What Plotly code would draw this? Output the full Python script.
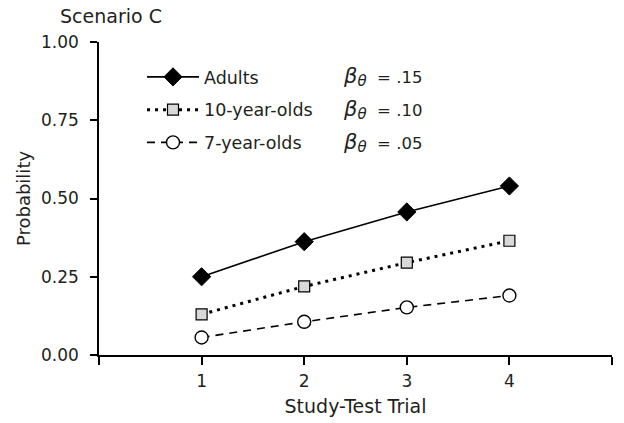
import plotly.graph_objects as go

trials = [1, 2, 3, 4]
adults = [0.25, 0.362, 0.457, 0.540]
ten_year = [0.130, 0.219, 0.295, 0.365]
seven_year = [0.056, 0.106, 0.152, 0.190]
series_names = ["Adults", "10-year-olds", "7-year-olds"]
beta_labels = [".15", ".10", ".05"]
y_ticks = [0, 0.25, 0.5, 0.75, 1.0]
y_tick_text = ["0.00", "0.25", "0.50", "0.75", "1.00"]
x_ticks = [0, 1, 2, 3, 4, 5]
x_tick_text = ["", "1", "2", "3", "4", ""]

FONT = "DejaVu Sans"
TXT = "#231f20"
fig = go.Figure()

fig.add_trace(go.Scatter(
    x=trials, y=adults, name=series_names[0], mode="lines+markers",
    line=dict(color="black", width=1.6),
    marker=dict(symbol="diamond", size=14, color="black", line=dict(color="black", width=1)),
    legendgroup="a"))
fig.add_trace(go.Scatter(
    x=trials, y=ten_year, name=series_names[1], mode="lines+markers",
    line=dict(color="black", width=3, dash="3px,5px"),
    marker=dict(symbol="square", size=11, color="#d9d9d9", line=dict(color="black", width=1.2)),
    legendgroup="b"))
fig.add_trace(go.Scatter(
    x=trials, y=seven_year, name=series_names[2], mode="lines+markers",
    line=dict(color="black", width=1.6, dash="8px,6px"),
    marker=dict(symbol="circle", size=13, color="white", line=dict(color="black", width=1.4)),
    legendgroup="c"))

L, R, T, B = 99, 12, 42, 68
W, H = 624, 423
pw, ph = W - L - R, H - T - B

beta_rows = [77, 110, 143]
for i, b in enumerate(beta_labels):
    fig.add_annotation(
        x=(341 - L) / pw, y=(H - B - beta_rows[i]) / ph, xref="paper", yref="paper",
        text=('<span style="font-size:21px"><i>β</i></span>'
              '<sub><span style="font-size:15px"><i>θ</i></span></sub>&nbsp;&nbsp;= ' + b),
        showarrow=False, xanchor="left", yanchor="middle",
        font=dict(family=FONT, size=16.5, color=TXT))

fig.update_layout(
    width=W, height=H,
    margin=dict(l=L, r=R, t=T, b=B),
    paper_bgcolor="white", plot_bgcolor="white",
    font=dict(family=FONT, size=17, color=TXT),
    title=dict(text="Scenario C", x=60 / W, xanchor="left", y=1 - 16 / H, yanchor="middle",
               font=dict(family=FONT, size=19, color=TXT)),
    showlegend=True,
    legend=dict(x=(142 - L) / pw, y=(H - B - 59) / ph, xanchor="left", yanchor="top",
                bgcolor="rgba(0,0,0,0)", itemwidth=52, tracegroupgap=7,
                traceorder="grouped",
                font=dict(family=FONT, size=17.5, color=TXT)),
    xaxis=dict(range=[0, 5], tickvals=x_ticks, ticktext=x_tick_text, automargin=False,
               showgrid=False, zeroline=False, showline=True, linecolor="black", linewidth=1.5,
               ticks="outside", ticklen=8, tickwidth=1.5, tickcolor="black",
               ticklabelstandoff=2,
               title=dict(text="Study-Test Trial", standoff=10, font=dict(family=FONT, size=19, color=TXT)),
               tickfont=dict(family=FONT, size=17, color=TXT)),
    yaxis=dict(range=[0, 1], tickvals=y_ticks, ticktext=y_tick_text, automargin=False,
               showgrid=False, zeroline=False, showline=True, linecolor="black", linewidth=1.5,
               ticks="outside", ticklen=7, tickwidth=1.5, tickcolor="black",
               ticklabelstandoff=8,
               title=dict(text="Probability", standoff=6, font=dict(family=FONT, size=18, color=TXT)),
               tickfont=dict(family=FONT, size=17, color=TXT)),
)

fig.write_html("out.html")
